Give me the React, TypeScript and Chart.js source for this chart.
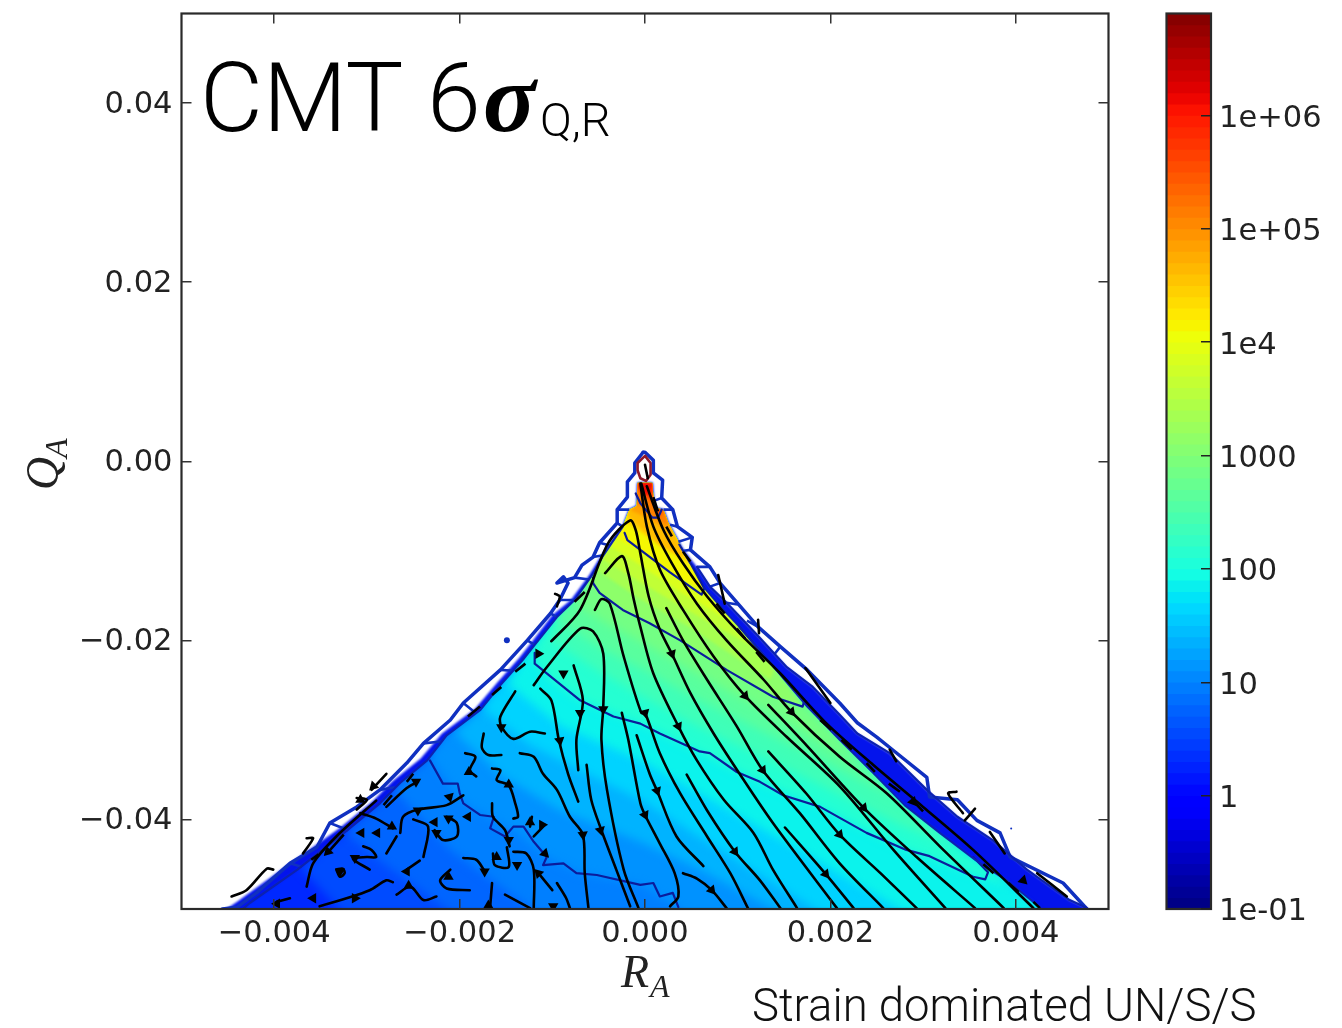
import React, { useEffect, useRef } from "react";
import { Chart, registerables } from "chart.js";

// All coordinates below are data values in units of 1e-3: [R_A, Q_A].
type P = number[];

const xTickValues = [-0.004, -0.002, 0, 0.002, 0.004];
const xTickLabels = ["\u22120.004", "\u22120.002", "0.000", "0.002", "0.004"];
const yTickValues = [0.04, 0.02, 0, -0.02, -0.04];
const yTickLabels = ["0.04", "0.02", "0.00", "\u22120.02", "\u22120.04"];
const barTickValues = [0.1, 1, 10, 100, 1000, 10000, 100000, 1000000];
const barTickLabels = ["1e-01", "1", "10", "100", "1000", "1e4", "1e+05", "1e+06"];

const leftEdge: P[] = [[-.08,-2.4],[-.09,-5],[-.17,-5.4],[-.24,-7.3],[-.45,-10.5],[-.57,-12.7],[-.76,-15.5],[-.95,-17.4],[-1.19,-20.5],[-1.32,-22.2],[-1.56,-25],[-1.78,-27.8],[-2.14,-30.6],[-2.35,-33.4],[-2.64,-35.9],[-2.86,-38.2],[-3.21,-41.2],[-3.75,-45.6],[-4.26,-49.3],[-4.42,-50.7]];
const rightEdge: P[] = [[.08,-2.4],[.1,-5.2],[.2,-5.4],[.25,-6.8],[.4,-9.7],[.49,-11.4],[.63,-14],[.83,-16.4],[1.02,-18.5],[1.4,-23.1],[1.75,-27.4],[2.1,-31.1],[2.46,-34.8],[2.8,-38.4],[3.18,-41.5],[3.56,-44.5],[3.9,-46.8],[4.26,-49.8],[4.31,-50.7]];
const rimLeft: P[] = [[-.08,-2.4],[-.09,-5],[-.17,-5.4],[-.24,-7.3],[-.47,-10.5],[-.6,-12.7],[-.8,-15.5],[-1,-17.2],[-1.23,-20.3],[-1.36,-22],[-1.6,-24.8],[-1.83,-27.6],[-2.19,-30.4],[-2.42,-33.2],[-2.72,-35.7],[-2.94,-38],[-3.3,-41],[-3.87,-45.2],[-4.4,-49.2],[-4.62,-50.7]];
const rimRight: P[] = [[.08,-2.4],[.1,-5.2],[.2,-5.4],[.25,-6.8],[.4,-9.7],[.56,-11.8],[.7,-14],[.88,-15.8],[1.21,-19.4],[1.53,-23],[1.81,-25.2],[2.1,-28.3],[2.29,-30.4],[2.64,-32.6],[3.04,-36.7],[3.37,-39.7],[3.75,-42.3],[4.12,-45.6],[4.58,-49],[4.77,-49.9],[4.82,-50.7]];
const outlineLeft: P[] = [[-.02,1],[-.11,-.2],[-.11,-1.3],[-.19,-2.3],[-.19,-4],[-.3,-5.4],[-.3,-6.9],[-.49,-9.1],[-.56,-10.7],[-.68,-11.6],[-.76,-13],[-.95,-13.6],[-.88,-12.9],[-.83,-13.6],[-.92,-15.5],[-1.02,-17],[-1.27,-20],[-1.56,-23.3],[-1.96,-27],[-2.1,-28.9],[-2.39,-31.5],[-2.57,-33.7],[-2.86,-36.7],[-3.11,-38.6],[-3.4,-40.4],[-3.54,-43.1],[-3.83,-44.9],[-4.19,-48.2],[-4.4,-49.8],[-4.56,-50]];
const outlineRight: P[] = [[-.02,1],[0,1],[.09,.1],[.09,-1.3],[.19,-2.1],[.18,-4.1],[.3,-5.4],[.35,-7.3],[.51,-8.5],[.49,-9.9],[.7,-11.8],[.81,-13.6],[1.22,-18.5],[1.46,-20.7],[1.75,-23.3],[2.1,-27],[2.29,-29.2],[2.5,-30.8],[2.68,-32.3],[3.04,-35.3],[3.07,-37.5],[3.37,-37.8],[3.58,-40.1],[3.83,-41.5],[3.94,-44.2],[4.51,-47.1],[4.75,-49.8]];
const outlineRungs: P[][] = [
  [[-.3,-5.4],[-.17,-5.4]],[[-.3,-6.9],[-.24,-7.3]],[[-.49,-9.1],[-.38,-9.4]],[[-.56,-10.7],[-.45,-10.5]],[[-.76,-13],[-.6,-13.2]],
  [[-.92,-15.5],[-.76,-15.5]],[[-1.02,-17],[-.95,-17.4]],[[-1.27,-20],[-1.19,-20.5]],[[-1.56,-23.3],[-1.42,-23.4]],[[-1.96,-27],[-1.84,-28]],
  [[-2.39,-31.5],[-2.2,-31.3]],[[-2.86,-36.7],[-2.7,-36.4]],[[-3.4,-40.4],[-3.2,-41.2]],[[-3.83,-44.9],[-3.7,-45.3]],
  [[.18,-4.1],[.1,-4.4]],[[.3,-5.4],[.2,-5.4]],[[.35,-7.3],[.27,-7.1]],[[.51,-8.5],[.36,-9]],[[.49,-9.9],[.42,-10]],
  [[.7,-11.8],[.56,-11.8]],[[.81,-13.6],[.7,-14]],[[1,-16],[.88,-15.8]],[[1.22,-18.5],[1.1,-17.8]],[[1.46,-20.7],[1.4,-21.5]],
];

// Iso-value lines of the field: [log10(value), points left to right]
const BL: P = [4.31, -50.7];
const isoLevels: [number, P[]][] = [
  [0.45, [[-3.72,-45.4],[-3.24,-50.7],BL]],
  [0.65, [[-3.24,-41.4],[-2.8,-45.1],[-2.05,-50.7],BL]],
  [0.85, [[-2.7,-36.7],[-2.1,-43.4],[-1.13,-50.7],BL]],
  [1, [[-2.32,-33],[-1.96,-38.2],[-1.42,-41.2],[-1.06,-44.2],[-.7,-46],[-.05,-47.3],[.49,-50.7],BL]],
  [1.25, [[-2.05,-30.3],[-1.56,-35],[-.92,-39],[-.05,-42.5],[.59,-45.6],[1.51,-50.7],BL]],
  [1.5, [[-1.76,-27.6],[-1.24,-31.7],[-.7,-34.5],[-.05,-37.8],[.81,-43.4],[1.94,-50.7],BL]],
  [1.75, [[-1.48,-24.9],[-.92,-29.5],[-.05,-33.4],[.81,-38.4],[1.67,-43.4],[2.86,-50.7],BL]],
  [2, [[-1.19,-22.2],[-1.02,-24.4],[-.7,-26.7],[.05,-29.7],[.59,-32.5],[1.24,-35.8],[1.89,-38.6],[2.83,-43.4],[3.65,-46.4],[3.94,-47.3]]],
  [2.25, [[-1.02,-19.9],[-.49,-23.5],[-.05,-26.1],[.59,-29.7],[1.67,-35],[2.75,-40.6],[3.45,-43.4]]],
  [2.5, [[-.88,-18.2],[-.49,-20.8],[-.05,-23.1],[.59,-26.7],[1.67,-32.2],[2.54,-36.7],[3.02,-39.5]]],
  [2.75, [[-.72,-16.1],[-.38,-18.3],[-.05,-20.1],[.59,-23.9],[1.46,-28.7],[2.32,-34]]],
  [3, [[-.62,-13.6],[-.49,-14.7],[-.24,-16.6],[.05,-18.1],[.38,-20],[.88,-23.3],[1.38,-26.3],[1.7,-27.4]]],
  [3.25, [[-.53,-12.1],[-.05,-15.4],[.49,-18.6],[1.35,-24.4]]],
  [3.5, [[-.48,-10.8],[-.05,-13.5],[.49,-16.8],[1.23,-21.1]]],
  [3.75, [[-.38,-9.4],[-.05,-11.6],[.38,-14.6],[1,-18.3]]],
  [4, [[-.32,-8.5],[-.05,-9.9],[.27,-12.4],[.7,-14.9]]],
  [4.25, [[-.22,-6.8],[.05,-8.6],[.5,-11.6]]],
  [4.5, [[-.2,-6],[.16,-9.4],[.42,-10.8]]],
  [4.75, [[-.17,-5.4],[0,-6.2],[.31,-8.2]]],
  [5, [[-.12,-5],[-.05,-4.9],[.05,-6],[.24,-7.1]]],
  [5.5, [[-.09,-2.9],[-.05,-3.4],[.11,-4.9],[.16,-6.3]]],
  [6, [[-.08,-2.4],[-.04,-3.5],[.05,-3.8],[.09,-2.4]]],
];

// Blue contour lines
const contourE: P[] = [[-.1,-3.6],[-.05,-4.7],[.08,-6.3],[.14,-6.3],[.18,-5.4]];
const contourA: P[] = [[-.22,-8],[-.19,-8.8],[-.05,-9.9],[.27,-12.4],[.61,-14.9],[.64,-14.2],[.49,-11.4],[.37,-9.3]];
const contourB: P[] = [[-.56,-13],[-.56,-13.6],[-.49,-14.7],[-.24,-16.6],[.05,-18.1],[.38,-20],[.88,-23.3],[1.38,-26.3],[1.7,-27.4],[1.72,-26.7],[1.4,-23.1],[1.02,-18.5]];
const contourC: P[] = [[-1.19,-21.4],[-1.19,-22.6],[-.7,-26.7],[-.34,-28.5],[-.05,-29.3],[.16,-30.4],[.59,-32.4],[.7,-32.6],[.99,-34.7],[1.24,-35.8],[1.49,-37.3],[1.89,-38.6],[2.39,-41.5],[2.82,-43.4],[3.07,-44.1],[3.54,-46.4],[3.67,-46.7],[3.7,-45.9],[3.54,-44.2]];
const contourD: P[] = [[-2.32,-33.4],[-2.18,-36],[-2.02,-36],[-2.0,-37],[-1.96,-38.2],[-1.78,-39.5],[-1.63,-39.7],[-1.67,-41],[-1.51,-41.9],[-1.42,-40.8],[-1.31,-40.8],[-1.2,-42.5],[-1.06,-44.2],[-1.1,-45.1],[-.88,-44.9],[-.74,-46],[-.52,-46.2],[-.05,-47.3],[.09,-47.1],[.16,-48.6],[.3,-48.2],[.36,-49.8]];
const ringApex: P[] = [[-.08,-.2],[0,.6],[.06,-.2],[.06,-1.5],[.01,-2.2],[-.05,-1.9],[-.08,-1],[-.08,-.2]];
const specksR = [-1.49, 3.95];
const specksQ = [-20, -41];

// Streamlines
const streamlines: P[][] = [
  [[.02,-2.8],[.2,-7.7],[.41,-11.4],[.67,-15.1],[1.02,-19.2],[1.46,-23.7],[1.94,-29.1],[2.46,-33.9],[3,-38.6],[3.54,-43.4],[4.19,-49.9]],
  [[-.04,-2.5],[.09,-7.3],[.29,-11.4],[.56,-15.9],[.88,-20],[1.28,-24.4],[1.58,-28],[2.1,-33],[2.61,-37.1],[3.18,-43],[3.87,-49.9]],
  [[1.33,-27.2],[1.74,-31.7],[2.36,-38.7],[2.93,-44.2],[3.56,-49.9]],
  [[-.05,-2.5],[.02,-7.3],[.16,-12.1],[.41,-16.6],[.74,-21.8],[1.08,-26.2],[1.53,-30.8],[2.1,-36.3],[2.68,-43.4],[3.24,-49.9]],
  [[1.33,-32.4],[1.74,-37.1],[2.1,-41.7],[2.54,-46],[2.93,-49.9]],
  [[.23,-16.4],[.41,-20],[.67,-24.4],[.99,-29.6],[1.27,-34.5],[1.67,-39.3],[2.1,-44.9],[2.57,-49.9]],
  [[1.51,-40.9],[1.95,-46.1],[2.25,-49.9]],
  [[-1.01,-20.1],[-.7,-16.6],[-.4,-9.2],[-.16,-6.6],[-.1,-7.7],[-.05,-10.3],[.04,-15.1],[.16,-18.8],[.29,-21.5],[.49,-25.9],[.74,-30.4],[1.02,-34.9],[1.38,-40.4],[2.07,-49.9]],
  [[-.43,-12.5],[-.25,-10.6],[-.18,-12.5],[-.12,-15.5],[-.05,-18.5],[.09,-23.7],[.36,-29.6],[.56,-33.4],[.85,-37.8],[1.17,-41.5],[1.38,-45.6],[1.64,-49.9]],
  [[.45,-35],[.67,-39],[.97,-43.6],[1.24,-46.8],[1.46,-49.9]],
  [[-.54,-16.6],[-.47,-15.4],[-.38,-15.9],[-.23,-21.8],[-.04,-28.1],[0,-28.1],[.16,-32.6],[.38,-37.1],[.67,-41.9],[.92,-46],[1.11,-49.9]],
  [[-.09,-30.6],[.05,-34.9],[.13,-36.8],[.34,-41.9],[.63,-45.2]],
  [[-.25,-28.1],[-.18,-31.1],[-.05,-38.2],[0,-39.5],[.16,-42.7],[.32,-46],[.36,-48.6],[.27,-49.7]],
  [[.41,-46],[.56,-46.6],[.72,-47.9],[.88,-49.9]],
  [[-1.2,-25],[-1.06,-23],[-.7,-18.7],[-.56,-19],[-.45,-21.5],[-.45,-27.4],[-.47,-31.1],[-.41,-36.7],[-.23,-45.6],[-.07,-49.9]],
  [[-.77,-22.8],[-.67,-26.7],[-.74,-31.1],[-.72,-34.5]],
  [[-.63,-33.9],[-.58,-37.8],[-.47,-41.2],[-.31,-45.6],[-.16,-49.7]],
  [[-1.13,-25.4],[-1.01,-26.7],[-.93,-31.1],[-.83,-34.9],[-.72,-38]],
  [[-1.35,-32.6],[-1.2,-33],[-1.1,-34.9],[-.95,-36.7],[-.81,-39.7],[-.67,-41.7],[-.65,-46],[-.61,-49.9]],
  [[-1.4,-25.7],[-1.56,-28.5],[-1.55,-29.6],[-1.42,-31],[-1.24,-30.2],[-1.08,-30.4]],
  [[-1.74,-30.4],[-1.76,-32],[-1.69,-32.8],[-1.55,-32.8]],
  [[-1.94,-32.6],[-1.83,-33],[-1.89,-34.5],[-1.82,-35.2]],
  [[-1.65,-34.3],[-1.56,-34.5],[-1.6,-35.6],[-1.47,-36.2],[-1.4,-38.2],[-1.37,-39.7],[-1.42,-39.9]],
  [[-1.65,-38.2],[-1.64,-39.7],[-1.51,-41.2],[-1.46,-43]],
  [[-2.79,-38.6],[-2.57,-36.5],[-2.45,-35.8]],
  [[-2.64,-41.5],[-2.61,-39.7],[-2.45,-38.9],[-2.14,-38.4],[-1.96,-37.3]],
  [[-3.07,-39.3],[-2.9,-39.9],[-2.72,-41]],
  [[-3.65,-47.5],[-3.58,-44.9],[-3.33,-41.9],[-2.9,-37.9]],
  [[-3.51,-49.7],[-3.22,-48.8],[-2.97,-47.9],[-2.79,-46.8],[-2.72,-47]],
  [[-2.68,-48.4],[-2.53,-47.5],[-2.39,-49],[-2.25,-48.6]],
  [[-2.1,-45.6],[-2.21,-46.8],[-2.14,-47.7],[-1.89,-47.9]],
  [[-2.5,-40],[-2.34,-40.8],[-2.39,-44.2]],
  [[-2.27,-41.2],[-2.18,-42.3],[-2.03,-41.9],[-2.03,-40.4],[-2.14,-39.7]],
  [[-3.04,-43],[-2.95,-43.4],[-2.9,-44.2],[-3,-44.2],[-3.15,-44.4],[-2.97,-45.6]],
  [[-3.33,-45.6],[-3.26,-45.5],[-3.24,-46],[-3.29,-46.4],[-3.33,-45.6]],
  [[-2.79,-43.8],[-2.68,-41.9]],
  [[-1.96,-44.3],[-1.82,-44.5],[-1.74,-45.6]],
  [[-2.57,-45.6],[-2.43,-44.6]],
  [[-1.64,-43.8],[-1.62,-45.1],[-1.47,-45.3],[-1.49,-43.1]],
  [[-1.42,-43.6],[-1.28,-43.8],[-1.2,-45.6],[-1.2,-49.9]],
  [[-1.15,-46],[-1,-47.9]],
  [[-.95,-47.1],[-.85,-48.8],[-.81,-49.9]],
  [[-1.65,-47.1],[-1.67,-49.7]],
  [[-1.51,-48.4],[-1.24,-49.9]],
  [[-1.22,-39.7],[-1.24,-40.8]],
  [[-1.08,-40.6],[-1.2,-41.9]],
  [[-3.83,-48.8],[-3.97,-49.2]],
  // ragged lines along the rim
  [[-4.46,-48.6],[-4.3,-47.9],[-4.08,-45.5],[-4.01,-45.6]],
  [[-3.65,-42.1],[-3.58,-42.1],[-3.69,-43.8]],
  [[-2.95,-36.7],[-2.79,-34.9]],
  [[-3.11,-37.6],[-3,-37.8],[-3.11,-38.9]],
  [[-.97,-14.8],[-.92,-15.1],[-.95,-16.2]],
  [[.79,-12.7],[.86,-15.9]],
  [[1.22,-17.7],[1.23,-19.2]],
  [[1.73,-23.1],[2,-27]],
  [[2.64,-32.2],[2.71,-33.5]],
  [[3.36,-36.9],[3.27,-37.1],[3.43,-39.3]],
  [[3.56,-38.8],[3.45,-40.1]],
  [[3.72,-41.4],[3.88,-43.8]],
  [[4.23,-46],[4.55,-48.6]],
  [[0,-.4],[.03,-1.9]],
];

const dashSegments: P[][] = [
  [[.09,-4],[.14,-5.6]],[[.23,-7.3],[.29,-8.4]],[[.41,-10.1],[.49,-11.2]],[[.77,-15.9],[.86,-17]],
  [[.99,-18.7],[1.08,-19.8]],[[1.2,-21.3],[1.29,-22.4]],[[1.89,-28.9],[2.01,-30]],[[2.12,-31.1],[2.23,-32.2]],
  [[2.39,-33.7],[2.48,-34.7]],[[2.63,-36],[2.75,-36.9]],[[2.88,-37.8],[3,-39.1]],[[3.65,-45],[3.76,-46]],
  [[3.92,-47.1],[4.03,-48.1]],[[4.19,-49.2],[4.26,-49.9]],
  [[-.76,-15.7],[-.65,-14.6]],[[-1.4,-23.5],[-1.29,-22.6]],[[-1.65,-26.1],[-1.55,-25.2]],[[-1.91,-28.5],[-1.78,-27.4]],
  [[-2.57,-35.8],[-2.5,-34.9]],[[-2.82,-38.4],[-2.73,-37.3]],[[-3.43,-43.8],[-3.25,-41.7]],[[-3.6,-44.5],[-3.52,-43.9]],
];

const arrowR = [.29,1.08,1.58,2.36,2.89,.36,0,1.27,2.1,.13,0,.97,1.95,.72,4.08,-.45,-.7,-.92,-.48,-.67,-1.55,-1.9,-1.47,-2.11,-2.47,-2.45,-2.73,-3.06,-2.89,-2.27,-2.12,-2.25,-3.13,-3.29,-3.58,-3.13,-2.55,-2.57,-2.12,-1.73,-1.91,-1.47,-1.6,-1.24,-1.11,-1.38,-1.15,-1.08,-.88,-1.15,-3.97,-1.69,-.99,-3.42,-2.93,-3.07];
const arrowQ = [-21.5,-26.2,-28,-38.7,-38,-29.6,-28.1,-34.5,-41.7,-36.8,-39.5,-43.6,-46.1,-47.9,-46.8,-27.7,-28.1,-31.2,-41.2,-41.7,-29.7,-34.7,-36.1,-37.5,-35.8,-39,-40.8,-41.5,-41.5,-40.3,-39.9,-41.5,-44.3,-45.8,-48.8,-48.8,-47.4,-45.8,-46.4,-45.8,-39.7,-42.3,-44.2,-40.3,-40.6,-45.1,-46,-43.8,-23.7,-21.5,-49.4,-49.6,-49.7,-43.6,-36.3,-37.8];
const arrowTurn = [160,140,140,140,140,155,165,145,140,160,155,145,140,140,135,180,180,170,165,175,300,120,120,45,60,300,120,270,270,270,60,300,300,180,270,90,0,270,0,180,150,180,0,0,90,180,315,135,180,210,270,0,180,225,225,0];

const jetR = [[0,0],[.35,0],[.66,1],[.89,1],[1,.5]];
const jetG = [[0,0],[.125,0],[.375,1],[.64,1],[.91,0],[1,0]];
const jetB = [[0,.5],[.11,1],[.34,1],[.65,0],[1,0]];
const barLogMin = -1;
const barLogMax = 6.9;
const barSteps = 79;

const pick = (stops: number[][], t: number) => {
  for (let i = 1; i < stops.length; i++) {
    if (t <= stops[i][0]) {
      const [a, va] = stops[i - 1];
      const [b, vb] = stops[i];
      return va + ((vb - va) * (t - a)) / (b - a);
    }
  }
  return stops[stops.length - 1][1];
};
const jetOfLog = (c: number) => {
  const t = Math.min(1, Math.max(0, (c - barLogMin) / (barLogMax - barLogMin)));
  return `rgb(${Math.round(pick(jetR, t) * 255)},${Math.round(pick(jetG, t) * 255)},${Math.round(pick(jetB, t) * 255)})`;
};
const toXY = (pts: P[]) => pts.map(([r, q]) => ({ x: r * 1e-3, y: q * 1e-3 }));

const isoPolygon = (line: P[]) => {
  const first = line[0];
  const last = line[line.length - 1];
  const right = rightEdge.filter((p) => p[1] > last[1]).reverse();
  const left = leftEdge.filter((p) => p[1] > first[1]);
  return [...line, ...right, ...left];
};

const stroke = (pts: P[], color: string, width: number) => ({
  data: toXY(pts),
  showLine: true,
  borderColor: color,
  borderWidth: width,
  pointRadius: 0,
  fill: false,
  tension: 0,
  borderJoinStyle: "round",
  borderCapStyle: "round",
});

const gapped = (segments: P[][], color: string, width: number) => {
  const pts: any[] = [];
  for (const seg of segments) {
    pts.push(...toXY(seg));
    pts.push({ x: NaN, y: NaN });
  }
  return { data: pts, showLine: true, borderColor: color, borderWidth: width, pointRadius: 0, spanGaps: false, fill: false };
};

// Softens the colour bands the way the reference does, keeping them inside the filled wedge.
const blurPlugin = {
  id: "bandBlur",
  beforeDatasetDraw(chart: any, args: any) {
    const ds = chart.data.datasets[args.index];
    if (ds && ds.band) {
      const { ctx, scales } = chart;
      ctx.save();
      if (ds.keepInside) {
        ctx.beginPath();
        [...leftEdge.slice().reverse(), ...rightEdge].forEach(([r, q], i) => {
          const px = scales.x.getPixelForValue(r * 1e-3);
          const py = scales.y.getPixelForValue(q * 1e-3);
          if (i === 0) ctx.moveTo(px, py);
          else ctx.lineTo(px, py);
        });
        ctx.closePath();
        ctx.clip();
      }
      ctx.filter = `blur(${ds.band}px)`;
    }
  },
  afterDatasetDraw(chart: any, args: any) {
    const ds = chart.data.datasets[args.index];
    if (ds && ds.band) chart.ctx.restore();
  },
};
Chart.register(blurPlugin);
Chart.register(...registerables);

const framePlugin = {
  id: "frame",
  afterDatasetsDraw(chart: any) {
    const { ctx, chartArea: a } = chart;
    ctx.save();
    ctx.strokeStyle = "#2a2a2a";
    ctx.lineWidth = 2.2;
    ctx.strokeRect(a.left, a.top, a.right - a.left, a.bottom - a.top);
    ctx.restore();
  },
};

const textPlugin = {
  id: "annotations",
  afterDraw(chart: any) {
    const { ctx } = chart;
    ctx.save();
    ctx.fillStyle = "#000";
    ctx.textBaseline = "alphabetic";
    ctx.textAlign = "left";
    ctx.font = "300 97px Roboto, 'Liberation Sans'";
    ctx.fillText("CMT 6", 200, 131);
    ctx.font = "italic bold 98px 'Liberation Serif'";
    ctx.fillText("\u03C3", 483, 131);
    ctx.font = "300 47px Roboto, 'Liberation Sans'";
    ctx.fillText("Q,R", 540, 136);
    ctx.font = "300 45.5px Roboto, 'Liberation Sans'";
    ctx.fillStyle = "#111";
    ctx.fillText("Strain dominated UN/S/S", 752, 1021);
    ctx.fillStyle = "#222";
    ctx.font = "italic 46px 'Liberation Serif'";
    ctx.fillText("R", 621, 987);
    ctx.font = "italic 32px 'Liberation Serif'";
    ctx.fillText("A", 650, 997);
    ctx.translate(58, 490);
    ctx.rotate(-Math.PI / 2);
    ctx.font = "italic 46px 'Liberation Serif'";
    ctx.fillText("Q", 0, 0);
    ctx.font = "italic 32px 'Liberation Serif'";
    ctx.fillText("A", 32, 9);
    ctx.restore();
  },
};

const tickFont = { family: "'DejaVu Sans'", size: 30.5 };
const tickColor = "#222";

const fixedTicks = (values: number[]) => (s: any) => {
  s.ticks = values.map((value) => ({ value }));
};
const labelFrom = (values: number[], labels: string[]) => (v: any) => {
  const i = values.findIndex((w) => Math.abs(w - Number(v)) < Math.abs(w) * 1e-6 + 1e-9);
  return i >= 0 ? labels[i] : "";
};
const fixSize = (dim: "width" | "height", size: number) => (s: any) => {
  s[dim] = size;
  s.paddingTop = 0;
  s.paddingBottom = 0;
  s.paddingLeft = 0;
  s.paddingRight = 0;
};

export default function App() {
  const mainRef = useRef<HTMLCanvasElement>(null);
  const barRef = useRef<HTMLCanvasElement>(null);

  useEffect(() => {
    const drawOrder: any[] = [];
    drawOrder.push({
      data: toXY([...rimLeft.slice().reverse(), ...rimRight]),
      showLine: true,
      fill: "shape",
      backgroundColor: "rgb(4,20,236)",
      borderWidth: 0,
      pointRadius: 0,
      band: 0.8,
    });
    drawOrder.push({
      data: toXY([...leftEdge.slice().reverse(), ...rightEdge]),
      showLine: true,
      fill: "shape",
      backgroundColor: jetOfLog(0.3),
      borderWidth: 0,
      pointRadius: 0,
      band: 1.5,
    });
    for (const [level, line] of isoLevels) {
      drawOrder.push({
        data: toXY(isoPolygon(line)),
        showLine: true,
        fill: "shape",
        backgroundColor: jetOfLog(level + 0.12),
        borderWidth: 0,
        pointRadius: 0,
        band: level >= 3 ? 1.5 : 5,
        keepInside: true,
      });
    }
    for (const c of [contourE, contourA, contourB, contourC, contourD]) drawOrder.push(stroke(c, "#0b1c9c", 2.2));
    drawOrder.push(stroke(outlineLeft, "#1030c0", 3.5));
    drawOrder.push(stroke(outlineRight, "#1030c0", 3.5));
    drawOrder.push(gapped(outlineRungs, "#1030c0", 2.6));
    drawOrder.push(stroke(leftEdge.slice(3), "#0c22b0", 2.2));
    drawOrder.push(stroke(rimRight.slice(5), "#0c22b0", 2.2));
    drawOrder.push(stroke(rightEdge.slice(6), "#0c22b0", 2));
    drawOrder.push(stroke(ringApex, "#8f1a2a", 2.6));
    drawOrder.push({
      data: specksR.map((r, i) => ({ x: r * 1e-3, y: specksQ[i] * 1e-3 })),
      pointRadius: [3, 1],
      backgroundColor: "#1030c0",
      borderWidth: 0,
    });
    for (const s of streamlines) {
      drawOrder.push({ ...stroke(s, "#000", 2.6), tension: 0.3 });
    }
    drawOrder.push(gapped(dashSegments, "#000", 2.6));
    drawOrder.push({
      data: arrowR.map((r, i) => ({ x: r * 1e-3, y: arrowQ[i] * 1e-3 })),
      pointStyle: "triangle",
      pointRadius: 6,
      rotation: arrowTurn,
      backgroundColor: "#000",
      borderWidth: 0,
    });

    const commonGrid = { drawOnChartArea: false, tickLength: -10, color: "#333", lineWidth: 1.5, z: 1 };
    const main = new Chart(mainRef.current!, {
      type: "scatter",
      data: { datasets: drawOrder.reverse() },
      options: {
        responsive: false,
        animation: false,
        events: [],
        layout: { padding: 0 },
        plugins: { legend: { display: false }, tooltip: { enabled: false }, title: { display: false } },
        scales: {
          x: {
            type: "linear",
            position: "bottom",
            min: -0.005,
            max: 0.005,
            border: { display: false },
            grid: commonGrid,
            afterBuildTicks: fixedTicks(xTickValues),
            afterFit: fixSize("height", 119),
            ticks: { font: tickFont, color: tickColor, padding: 17, maxRotation: 0, autoSkip: false, callback: labelFrom(xTickValues, xTickLabels), z: 2 },
          },
          x2: {
            type: "linear",
            position: "top",
            min: -0.005,
            max: 0.005,
            border: { display: false },
            grid: commonGrid,
            afterBuildTicks: fixedTicks(xTickValues),
            afterFit: fixSize("height", 13.5),
            ticks: { display: false },
          },
          y: {
            type: "linear",
            position: "left",
            min: -0.05,
            max: 0.05,
            border: { display: false },
            grid: commonGrid,
            afterBuildTicks: fixedTicks(yTickValues),
            afterFit: fixSize("width", 181.5),
            ticks: { font: tickFont, color: tickColor, padding: 19, labelOffset: 2, autoSkip: false, callback: labelFrom(yTickValues, yTickLabels), z: 2 },
          },
          y2: {
            type: "linear",
            position: "right",
            min: -0.05,
            max: 0.05,
            border: { display: false },
            grid: commonGrid,
            afterBuildTicks: fixedTicks(yTickValues),
            afterFit: fixSize("width", 233.5),
            ticks: { display: false },
          },
        },
      } as any,
      plugins: [framePlugin, textPlugin],
    } as any);

    const barSets: any[] = [];
    const stepSize = (barLogMax - barLogMin) / barSteps;
    for (let i = barSteps - 1; i >= 0; i--) {
      const lo = barLogMin + i * stepSize;
      barSets.push({
        data: [[Math.pow(10, lo), Math.pow(10, barLogMax)]],
        backgroundColor: jetOfLog(lo + stepSize / 2),
        borderWidth: 0,
        grouped: false,
        barPercentage: 1,
        categoryPercentage: 1,
      });
    }
    const bar = new Chart(barRef.current!, {
      type: "bar",
      data: { labels: ["colour"], datasets: barSets },
      options: {
        responsive: false,
        animation: false,
        events: [],
        layout: { padding: { left: 16.5, top: 13.5, bottom: 119, right: 0 } },
        plugins: { legend: { display: false }, tooltip: { enabled: false } },
        scales: {
          x: { display: false },
          y: {
            type: "logarithmic",
            position: "right",
            min: Math.pow(10, barLogMin),
            max: Math.pow(10, barLogMax),
            border: { display: false },
            grid: { drawOnChartArea: false, tickLength: -10, color: "#222", lineWidth: 1.5, z: 1 },
            afterBuildTicks: fixedTicks(barTickValues),
            afterFit: fixSize("width", 131),
            ticks: { font: tickFont, color: tickColor, padding: 18, labelOffset: 3.5, autoSkip: false, callback: labelFrom(barTickValues, barTickLabels), z: 2 },
          },
        },
      } as any,
      plugins: [framePlugin],
    } as any);

    return () => {
      main.destroy();
      bar.destroy();
    };
  }, []);

  return (
    <div style={{ position: "absolute", left: 0, top: 0, width: 1342, height: 1028, overflow: "hidden", background: "#fff" }}>
      <canvas ref={mainRef} width={1342} height={1028} style={{ position: "absolute", left: 0, top: 0 }} />
      <canvas ref={barRef} width={192} height={1028} style={{ position: "absolute", left: 1150, top: 0 }} />
    </div>
  );
}
